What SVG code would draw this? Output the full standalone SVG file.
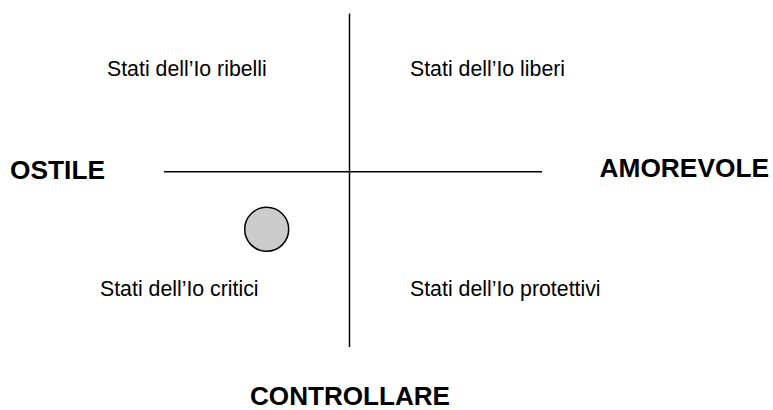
<svg xmlns="http://www.w3.org/2000/svg" width="773" height="410" viewBox="0 0 773 410">
<style>
.lbl{font-family:"Liberation Sans",Arial,sans-serif;font-size:21.3px;fill:#000}
.axis{font-family:"Liberation Sans",Arial,sans-serif;font-size:25px;font-weight:bold;fill:#000}
.ln{stroke:#000;stroke-width:1.5;fill:none}
</style>
<rect width="773" height="410" fill="#fff"/>
<g id="connectors">
<line class="ln" x1="349.5" y1="13.5" x2="349.5" y2="347"/>
<line class="ln" x1="164" y1="171.7" x2="542" y2="171.7"/>
</g>
<g id="marker-circle">
<circle cx="266.7" cy="229.3" r="22" fill="#cccccc" stroke="#000" stroke-width="1.5"/>
</g>
<g id="q-ribelli"><text class="lbl" x="107" y="76">Stati dell’Io ribelli</text></g>
<g id="q-liberi"><text class="lbl" x="410" y="76">Stati dell’Io liberi</text></g>
<g id="q-critici"><text class="lbl" x="100" y="296">Stati dell’Io critici</text></g>
<g id="q-protettivi"><text class="lbl" x="410" y="296">Stati dell’Io protettivi</text></g>
<g id="axis-ostile"><text class="axis" x="10" y="178.5" textLength="95" lengthAdjust="spacingAndGlyphs">OSTILE</text></g>
<g id="axis-amorevole"><text class="axis" x="599.5" y="177" textLength="169.5" lengthAdjust="spacingAndGlyphs">AMOREVOLE</text></g>
<g id="axis-controllare"><text class="axis" x="250" y="404.5" textLength="200" lengthAdjust="spacingAndGlyphs">CONTROLLARE</text></g>
</svg>
